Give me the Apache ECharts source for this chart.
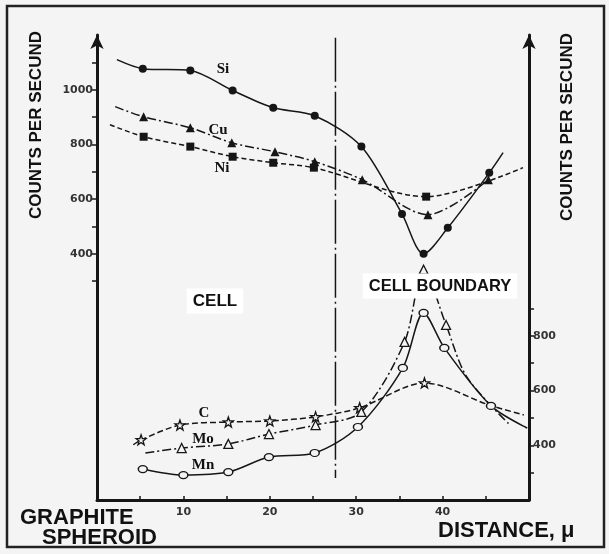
<!DOCTYPE html>
<html>
<head>
<meta charset="utf-8">
<script src="https://cdn.jsdelivr.net/npm/echarts@6/dist/echarts.min.js"></script>
<style>
  html, body { margin: 0; padding: 0; background: #ffffff; }
  #chart { width: 609px; height: 554px; }
</style>
</head>
<body>
<div id="chart"></div>
<script>
// ---- Data (distance in µ, counts per second) ----
// Upper group: left axis
const siX = [5.3, 10.8, 15.7, 20.4, 25.2, 30.6, 35.3, 37.8, 40.6, 45.4];
const siY = [1077, 1070, 997, 934, 905, 792, 546, 400, 495, 696];
const siIn = [[2.3, 1110]];
const siOut = [[47.0, 770]];

const cuX = [5.4, 10.8, 15.6, 20.6, 25.2, 30.7, 38.3, 45.3];
const cuY = [901, 861, 806, 773, 737, 671, 543, 671];
const cuIn = [[2.1, 938]];
const cuOut = [];

const niX = [5.4, 10.8, 15.7, 20.4, 25.1, 38.1];
const niY = [828, 792, 755, 733, 715, 609];
const niIn = [[1.5, 872]];
const niOut = [[49.3, 715]];

// Lower group: right axis
const cX = [5.1, 9.6, 15.2, 20.0, 25.3, 30.4, 37.9];
const cY = [420, 474, 485, 489, 504, 537, 628];
const cIn = [[4.2, 402]];
const cOut = [[45.5, 546], [49.4, 511]];

const moX = [9.8, 15.2, 19.9, 25.3, 30.6, 35.6, 37.8, 40.4];
const moY = [390, 405, 441, 474, 522, 778, 1042, 840];
const moIn = [[5.6, 372]];
const moOut = [[42.8, 650], [47.8, 474]];

const mnX = [5.3, 10.0, 15.2, 19.9, 25.2, 30.2, 35.4, 37.8, 40.2, 45.6];
const mnY = [313, 291, 302, 357, 372, 467, 683, 884, 756, 544];
const mnIn = [];
const mnOut = [[49.8, 463]];

// Cell boundary (dash-dot vertical line), in left-axis units
const boundaryX = 27.6;
const boundaryY = [1190, -420];

// Tick labels
const xLabels = [10, 20, 30, 40];
const leftLabels = [400, 600, 800, 1000];
const leftTicks = [300, 400, 500, 600, 700, 800, 900, 1000, 1100];
const rightLabels = [400, 600, 800];
const rightTicks = [300, 400, 500, 600, 700, 800, 900];

// ---- Build chart ----
const BG = '#f4f4f4';
const INK = '#161616';
const STAR = 'path://M0,-10 L2.35,-3.24 L9.51,-3.09 L3.8,1.24 L5.88,8.09 L0,4 L-5.88,8.09 L-3.8,1.24 L-9.51,-3.09 L-2.35,-3.24 Z';

function buildData(xs, ys, pre, post) {
  const out = [];
  pre.forEach(p => out.push({ value: p, symbol: 'none' }));
  xs.forEach((x, i) => out.push({ value: [x, ys[i]] }));
  post.forEach(p => out.push({ value: p, symbol: 'none' }));
  return out;
}

function series(name, data, yIdx, symbol, size, filled, dash) {
  return {
    name: name, type: 'line', yAxisIndex: yIdx, data: data,
    smooth: 0.3, symbol: symbol, symbolSize: size, showSymbol: true,
    lineStyle: { color: INK, width: 1.5, type: dash || 'solid' },
    itemStyle: filled ? { color: INK } : { color: BG, borderColor: INK, borderWidth: 1.3 },
    z: 3
  };
}

const chart = echarts.init(document.getElementById('chart'), null, { renderer: 'canvas' });

const axisLine = {
  show: true, onZero: false,
  symbol: ['none', 'arrow'], symbolSize: [10, 14],
  lineStyle: { color: INK, width: 3 }
};
const tickFont = { color: '#333', fontSize: 11, fontWeight: 'bold', fontFamily: 'DejaVu Sans' };
const plain = v => String(v);

const option = {
  animation: false,
  backgroundColor: BG,
  grid: { left: 97, right: 80, top: 35, bottom: 54, containLabel: false },
  xAxis: {
    type: 'value', min: 0, max: 50, interval: 5,
    axisLine: { show: true, onZero: false, lineStyle: { color: INK, width: 3 } },
    axisTick: { show: true, inside: true, length: 4, lineStyle: { color: INK, width: 1.5 } },
    axisLabel: Object.assign({ customValues: xLabels, margin: 7, formatter: plain }, tickFont),
    splitLine: { show: false }
  },
  yAxis: [
    {
      type: 'value', position: 'left', min: -500, max: 1200, interval: 100,
      axisLine: axisLine,
      axisTick: { show: true, customValues: leftTicks, length: 5, lineStyle: { color: INK, width: 1.5 } },
      axisLabel: Object.assign({ customValues: leftLabels, margin: 4, formatter: plain }, tickFont),
      splitLine: { show: false }
    },
    {
      type: 'value', position: 'right', min: 200, max: 1900, interval: 100,
      axisLine: axisLine,
      axisTick: { show: true, customValues: rightTicks, length: 5, lineStyle: { color: INK, width: 1.5 } },
      axisLabel: Object.assign({ customValues: rightLabels, margin: 4, formatter: plain }, tickFont),
      splitLine: { show: false }
    }
  ],
  series: [
    series('Si', buildData(siX, siY, siIn, siOut), 0, 'circle', 8, true, 'solid'),
    series('Cu', buildData(cuX, cuY, cuIn, cuOut), 0, 'triangle', 9, true, [9, 3, 2, 3]),
    series('Ni', buildData(niX, niY, niIn, niOut), 0, 'rect', 8, true, [5, 3]),
    series('C', buildData(cX, cY, cIn, cOut), 1, STAR, 10, false, [6, 3]),
    series('Mo', buildData(moX, moY, moIn, moOut), 1, 'triangle', 9, false, [9, 3, 2, 3]),
    series('Mn', buildData(mnX, mnY, mnIn, mnOut), 1, 'circle', [9, 7], false, 'solid'),
    {
      name: 'boundary', type: 'line', yAxisIndex: 0, symbol: 'none', smooth: false,
      data: [[boundaryX, boundaryY[0]], [boundaryX, boundaryY[1]]],
      lineStyle: { color: INK, width: 1.5, type: [44, 4, 2, 4] }, z: 2
    }
  ],
  graphic: [
    // outer frame
    { type: 'rect', shape: { x: 7, y: 6, width: 597, height: 541 }, style: { fill: null, stroke: '#222', lineWidth: 2.5 }, silent: true, z: 100 },
    // axis titles
    { type: 'text', x: 36, y: 125, rotation: Math.PI / 2, style: { text: 'COUNTS PER SECUND', font: 'bold 17px "Liberation Sans"', fill: '#111', textAlign: 'center', textVerticalAlign: 'middle' }, z: 100 },
    { type: 'text', x: 567, y: 127, rotation: Math.PI / 2, style: { text: 'COUNTS PER SECUND', font: 'bold 17px "Liberation Sans"', fill: '#111', textAlign: 'center', textVerticalAlign: 'middle' }, z: 100 },
    { type: 'text', x: 20, y: 518, style: { text: 'GRAPHITE', font: 'bold 22px "Liberation Sans"', fill: '#111', textAlign: 'left', textVerticalAlign: 'middle' }, z: 100 },
    { type: 'text', x: 42, y: 538, style: { text: 'SPHEROID', font: 'bold 22px "Liberation Sans"', fill: '#111', textAlign: 'left', textVerticalAlign: 'middle' }, z: 100 },
    { type: 'text', x: 438, y: 531, style: { text: 'DISTANCE, μ', font: 'bold 22px "Liberation Sans"', fill: '#111', textAlign: 'left', textVerticalAlign: 'middle' }, z: 100 },
    // region labels
    { type: 'text', x: 440, y: 286, style: { text: 'CELL BOUNDARY', font: 'bold 16.5px "Liberation Sans"', fill: '#111', textAlign: 'center', textVerticalAlign: 'middle', backgroundColor: '#ffffff', padding: [4, 6] }, z: 100 },
    { type: 'text', x: 215, y: 301, style: { text: 'CELL', font: 'bold 17px "Liberation Sans"', fill: '#111', textAlign: 'center', textVerticalAlign: 'middle', backgroundColor: '#ffffff', padding: [4, 6] }, z: 100 },
    // series labels
    { type: 'text', x: 223, y: 69, style: { text: 'Si', font: 'bold 15px "Liberation Serif"', fill: '#111', textAlign: 'center', textVerticalAlign: 'middle' }, z: 100 },
    { type: 'text', x: 218, y: 130, style: { text: 'Cu', font: 'bold 15px "Liberation Serif"', fill: '#111', textAlign: 'center', textVerticalAlign: 'middle' }, z: 100 },
    { type: 'text', x: 222, y: 168, style: { text: 'Ni', font: 'bold 15px "Liberation Serif"', fill: '#111', textAlign: 'center', textVerticalAlign: 'middle' }, z: 100 },
    { type: 'text', x: 204, y: 413, style: { text: 'C', font: 'bold 15px "Liberation Serif"', fill: '#111', textAlign: 'center', textVerticalAlign: 'middle' }, z: 100 },
    { type: 'text', x: 203, y: 439, style: { text: 'Mo', font: 'bold 15px "Liberation Serif"', fill: '#111', textAlign: 'center', textVerticalAlign: 'middle' }, z: 100 },
    { type: 'text', x: 203, y: 465, style: { text: 'Mn', font: 'bold 15px "Liberation Serif"', fill: '#111', textAlign: 'center', textVerticalAlign: 'middle' }, z: 100 }
  ]
};

chart.setOption(option);
</script>
</body>
</html>
